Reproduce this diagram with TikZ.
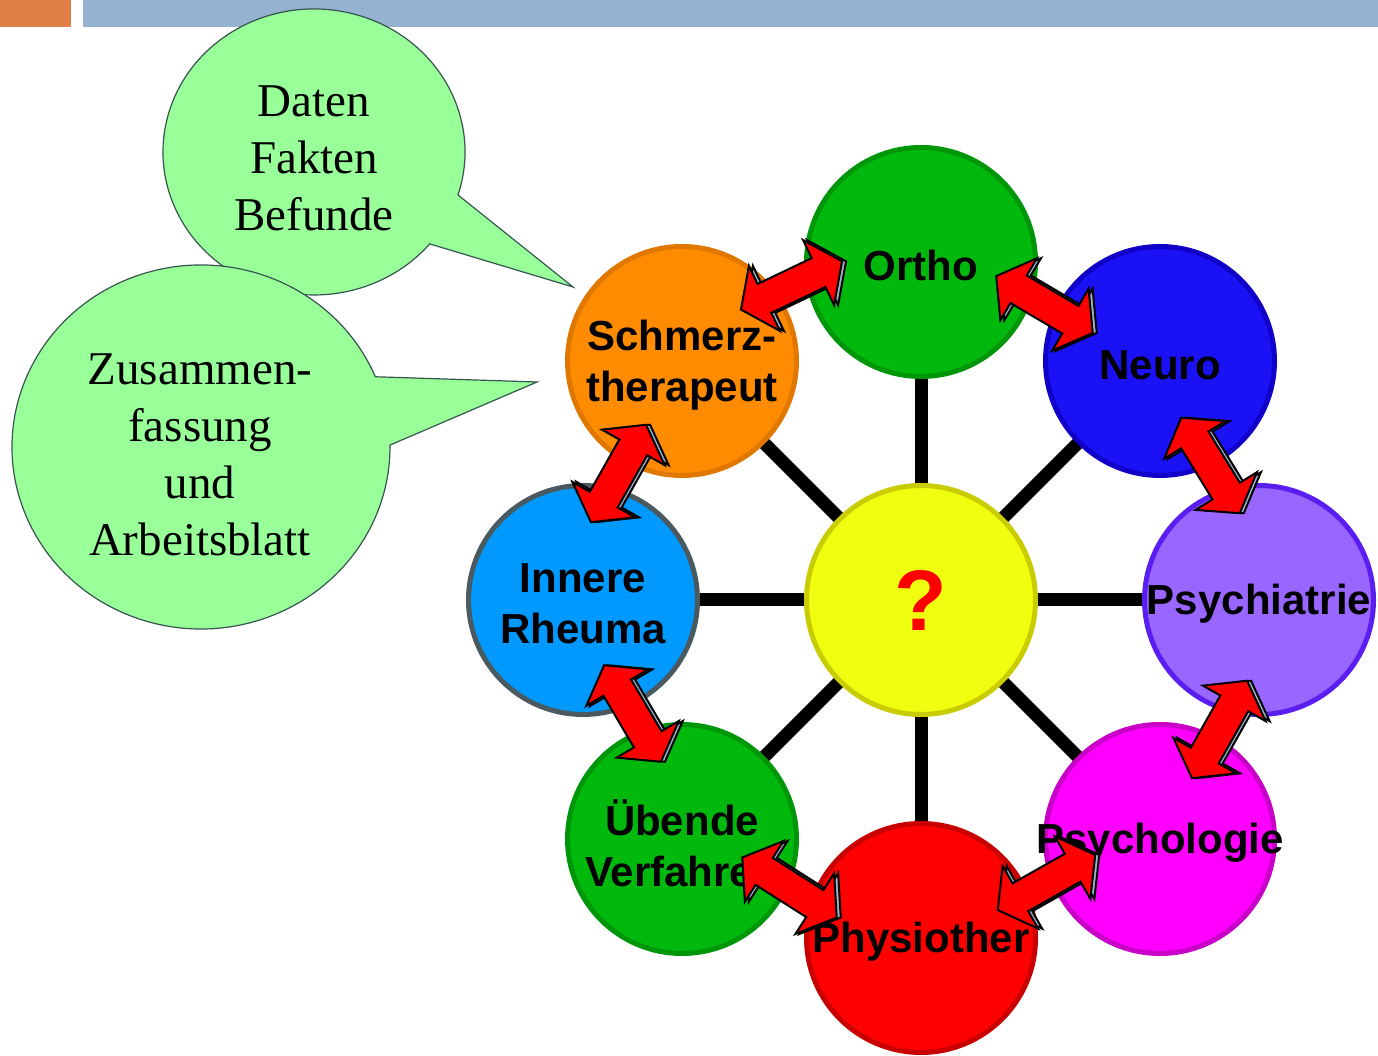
\documentclass[tikz,border=0pt]{standalone}
\usepackage{fontspec}
\setmainfont{Liberation Serif}
\setsansfont{Liberation Sans}
\usetikzlibrary{calc,backgrounds}

\definecolor{barorange}{RGB}{224,127,71}
\definecolor{barblue}{RGB}{149,179,208}
\definecolor{bubblegreen}{RGB}{153,255,153}
\definecolor{bubbleline}{RGB}{55,85,80}
\definecolor{orthofill}{RGB}{0,185,12}
\definecolor{ortholine}{RGB}{0,150,10}
\definecolor{neurofill}{RGB}{26,18,245}
\definecolor{neuroline}{RGB}{16,0,200}
\definecolor{psychifill}{RGB}{153,102,255}
\definecolor{psychiline}{RGB}{90,30,240}
\definecolor{psychofill}{RGB}{255,0,255}
\definecolor{psycholine}{RGB}{200,0,200}
\definecolor{physiofill}{RGB}{255,0,0}
\definecolor{physioline}{RGB}{200,0,0}
\definecolor{innerfill}{RGB}{0,153,255}
\definecolor{innerline}{RGB}{74,90,96}
\definecolor{schmerzfill}{RGB}{255,140,0}
\definecolor{schmerzline}{RGB}{224,120,0}
\definecolor{qfill}{RGB}{240,255,16}
\definecolor{qline}{RGB}{200,204,0}
\definecolor{arrowbevel}{RGB}{160,178,204}

\tikzset{
    ring/.style 2 args={circle, inner sep=0pt, minimum size=229pt, line width=5pt, fill=#1, draw=#2},
    ringtext/.style={align=center, inner sep=0pt, yshift=-4pt, font=\sffamily\bfseries\fontsize{42}{51}\selectfont},
    spoke/.style={line width=13pt},
    callout/.style={fill=bubblegreen, draw=bubbleline, line width=1.2pt},
    callouttext/.style={align=center, font=\rmfamily\fontsize{47}{57}\selectfont},
    arrowbody/.style={fill=red, draw=black, line width=2pt, line join=miter},
    arrowback/.style={fill=arrowbevel, draw=black, line width=2pt},
    dblarrow/.pic={
        \path[#1] (56,0) -- (30,36) -- (30,16) -- (-30,16) -- (-30,36) -- (-56,0)
            -- (-30,-36) -- (-30,-16) -- (30,-16) -- (30,-36) -- cycle;
    }
}

% two-headed block arrow between two rings, #1 turns it, #4 shifts its middle
\newcommand{\linkarrow}[4][0]{%
    \path let \p1 = ($(#3)-(#2)$), \n1 = {atan2(\y1,\x1)+#1} in
        ($(#2)!0.5!(#3)+#4+(4,0)$) pic[rotate=\n1] {dblarrow=arrowback}
        ($(#2)!0.5!(#3)+#4$) pic[rotate=\n1] {dblarrow=arrowbody};
}

\begin{document}
\begin{tikzpicture}[x=1pt, y=1pt]
    \useasboundingbox (0,0) rectangle (1378,1056);

    \fill[barorange] (0,1029) rectangle (71,1056);
    \fill[barblue] (83,1029) rectangle (1378,1056);

    % callouts
    \coordinate (factstip) at (573,769);
    \coordinate (summarytip) at (537,674);
    \draw[callout] (314,904) ++(-17.5:151 and 143)
        arc[start angle=-17.5, end angle=320, x radius=151, y radius=143] -- (factstip) -- cycle;
    \node[callouttext] (facts) at (314,898) {Daten\\Fakten\\Befunde};
    \draw[callout] (201,609) ++(22.7:189 and 182)
        arc[start angle=22.7, end angle=360.6, x radius=189, y radius=182] -- (summarytip) -- cycle;
    \node[callouttext] (summary) at (200,601) {Zusammen-\\fassung\\und\\Arbeitsblatt};

    % rings
    \node[ring={qfill}{qline}, text=red, font=\sffamily\bfseries\fontsize{86}{90}\selectfont] (quest) at (921,456) {?};
    \node[ring={orthofill}{ortholine}, label={[ringtext]center:Ortho}] (ortho) at (921,794) {};
    \node[ring={neurofill}{neuroline}, label={[ringtext]center:Neuro}] (neuro) at (1160,695) {};
    \node[ring={psychifill}{psychiline}, label={[ringtext]center:Psychiatrie}] (psychiatrie) at (1259,456) {};
    \node[ring={psychofill}{psycholine}, label={[ringtext]center:Psychologie}] (psychologie) at (1160,217) {};
    \node[ring={physiofill}{physioline}, label={[ringtext]center:Physiother}] (physio) at (921,118) {};
    \node[ring={orthofill}{ortholine}, label={[ringtext]center:{Übende\\Verfahren}}] (uebende) at (682,217) {};
    \node[ring={innerfill}{innerline}, label={[ringtext]center:{Innere\\Rheuma}}] (innere) at (583,456) {};
    \node[ring={schmerzfill}{schmerzline}, label={[ringtext]center:{Schmerz-\\therapeut}}] (schmerz) at (682,695) {};

    \begin{scope}[on background layer]
        \foreach \n in {ortho,neuro,psychiatrie,psychologie,physio,uebende,innere,schmerz}
            \draw[spoke] (quest.center) -- (\n.center);
    \end{scope}

    \linkarrow[3]{schmerz}{ortho}{(-10,26)}
    \linkarrow[-8]{ortho}{neuro}{(4,7)}
    \linkarrow[9]{neuro}{psychiatrie}{(1,15)}
    \linkarrow[-7]{psychiatrie}{psychologie}{(10,-10)}
    \linkarrow[7]{psychologie}{physio}{(6,6)}
    \linkarrow[-10]{physio}{uebende}{(-12,1)}
    \linkarrow[8]{uebende}{innere}{(0,6)}
    \linkarrow[-7]{innere}{schmerz}{(-14,7)}
\end{tikzpicture}
\end{document}
